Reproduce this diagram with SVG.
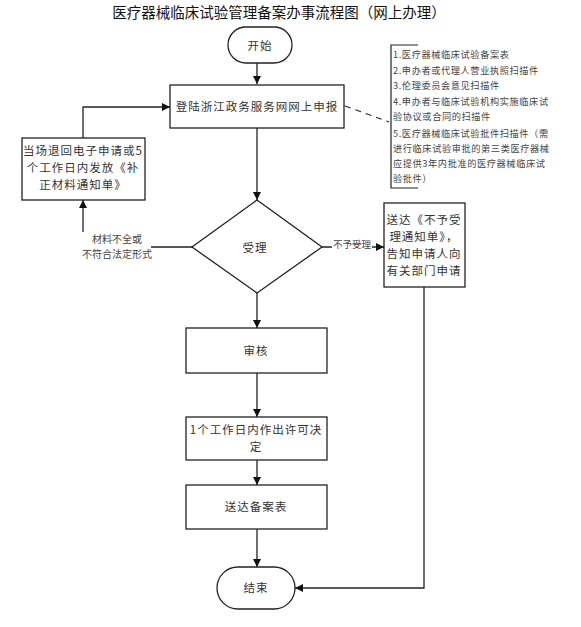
<svg xmlns="http://www.w3.org/2000/svg" width="581" height="627" viewBox="0 0 581 627">
<style>
.n{fill:#fff;stroke:#222;stroke-width:1.3}
.t{font-family:"Noto Sans CJK SC","Liberation Sans",sans-serif;font-size:11.5px;letter-spacing:1px;fill:#333;text-anchor:middle}
.s{font-family:"Noto Sans CJK SC","Liberation Sans",sans-serif;font-size:9.2px;fill:#444;letter-spacing:0.6px}
.l{font-family:"Noto Sans CJK SC","Liberation Sans",sans-serif;font-size:10px;fill:#444;text-anchor:middle}
.c{fill:none;stroke:#222;stroke-width:1.3}
</style>
<defs>
<marker id="a" viewBox="0 0 10 10" refX="10" refY="5" markerWidth="8" markerHeight="8" markerUnits="userSpaceOnUse" orient="auto">
<path d="M0,0 L10,5 L0,10 z" fill="#111"/>
</marker>
</defs>
<rect width="581" height="627" fill="#fff"/>
<text x="279" y="18" style="font-family:'Noto Sans CJK SC','Liberation Sans',sans-serif;font-size:14.5px;fill:#111;text-anchor:middle">医疗器械临床试验管理备案办事流程图（网上办理）</text>

<g id="connectors">
<line class="c" x1="257" y1="63" x2="257" y2="84" marker-end="url(#a)"/>
<line class="c" x1="257" y1="128" x2="257" y2="200" marker-end="url(#a)"/>
<polyline class="c" points="83,138 83,107 170,107" marker-end="url(#a)"/>
<polyline class="c" points="192,247 83,247 83,200" marker-end="url(#a)"/>
<line class="c" x1="322" y1="247" x2="384" y2="247" marker-end="url(#a)"/>
<line class="c" x1="257" y1="293" x2="257" y2="328" marker-end="url(#a)"/>
<line class="c" x1="257" y1="373" x2="257" y2="417" marker-end="url(#a)"/>
<line class="c" x1="257" y1="460" x2="257" y2="485" marker-end="url(#a)"/>
<line class="c" x1="257" y1="529" x2="257" y2="567" marker-end="url(#a)"/>
<polyline class="c" points="424,287 424,588 295,588" marker-end="url(#a)"/>
<line x1="345" y1="106" x2="389" y2="122" stroke="#222" stroke-width="1.1" stroke-dasharray="6,5"/>
<rect x="81" y="232" width="70" height="30" fill="#fff"/>
<text class="l" x="117" y="243">材料不全或</text>
<text class="l" x="117" y="258">不符合法定形式</text>
<rect x="332" y="238" width="40" height="14" fill="#fff"/>
<text class="l" x="352" y="248" style="font-size:9.5px">不予受理</text>
</g>

<g id="start">
<rect class="n" x="228" y="27" width="64" height="36" rx="18"/>
<text class="t" x="260" y="50">开始</text>
</g>

<g id="apply">
<rect class="n" x="170" y="85" width="174" height="43"/>
<text class="t" x="257" y="111">登陆浙江政务服务网网上申报</text>
</g>

<g id="note">
<polyline class="c" points="418,45 391,45 391,188 418,188" style="stroke-width:1.2"/>
<text class="s" x="393" y="58">1.医疗器械临床试验备案表</text>
<text class="s" x="393" y="74">2.申办者或代理人营业执照扫描件</text>
<text class="s" x="393" y="89">3.伦理委员会意见扫描件</text>
<text class="s" x="393" y="105">4.申办者与临床试验机构实施临床试</text>
<text class="s" x="393" y="120">验协议或合同的扫描件</text>
<text class="s" x="393" y="137">5.医疗器械临床试验批件扫描件（需</text>
<text class="s" x="393" y="152">进行临床试验审批的第三类医疗器械</text>
<text class="s" x="393" y="167">应提供3年内批准的医疗器械临床试</text>
<text class="s" x="393" y="182">验批件）</text>
</g>

<g id="return">
<rect class="n" x="22" y="138" width="123" height="62"/>
<text class="t" x="83" y="155">当场退回电子申请或5</text>
<text class="t" x="83" y="172">个工作日内发放《补</text>
<text class="t" x="83" y="189">正材料通知单》</text>
</g>

<g id="accept">
<polygon class="n" points="257,200 322,247 257,293 192,247"/>
<text class="t" x="255" y="252">受理</text>
</g>

<g id="reject">
<rect class="n" x="384" y="203" width="81" height="84"/>
<text class="t" x="424" y="224">送达《不予受</text>
<text class="t" x="424" y="241">理通知单》，</text>
<text class="t" x="424" y="258">告知申请人向</text>
<text class="t" x="424" y="275">有关部门申请</text>
</g>

<g id="review">
<rect class="n" x="186" y="328" width="141" height="45"/>
<text class="t" x="256" y="355">审核</text>
</g>

<g id="decide">
<rect class="n" x="186" y="417" width="141" height="43"/>
<text class="t" x="256" y="434">1个工作日内作出许可决</text>
<text class="t" x="256" y="451">定</text>
</g>

<g id="deliver">
<rect class="n" x="186" y="485" width="141" height="44"/>
<text class="t" x="256" y="511">送达备案表</text>
</g>

<g id="end">
<rect class="n" x="217" y="567" width="78" height="42" rx="21"/>
<text class="t" x="256" y="592">结束</text>
</g>
</svg>
